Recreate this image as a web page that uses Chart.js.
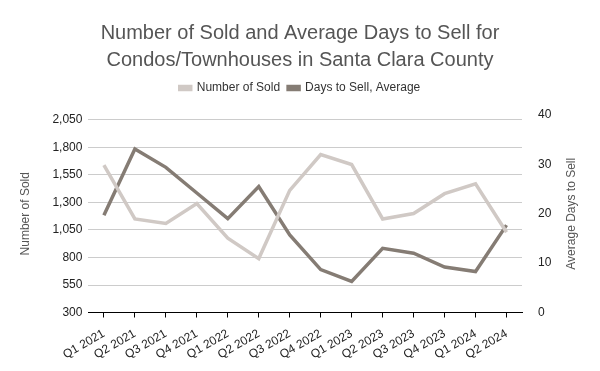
<!DOCTYPE html>
<html>
<head>
<meta charset="utf-8">
<script src="https://cdn.jsdelivr.net/npm/chart.js@4.4.0/dist/chart.umd.min.js"></script>
<style>
  html, body { margin: 0; padding: 0; background: #fff; }
  #wrap { width: 600px; height: 371px; }
</style>
</head>
<body>
<div id="wrap"><canvas id="chart"></canvas></div>
<script>
// quarters on the x axis
const quarters = ['Q1 2021', 'Q2 2021', 'Q3 2021', 'Q4 2021', 'Q1 2022', 'Q2 2022', 'Q3 2022',
    'Q4 2022', 'Q1 2023', 'Q2 2023', 'Q3 2023', 'Q4 2023', 'Q1 2024', 'Q2 2024'];
// number of condos/townhouses sold (left axis)
const numberSold = [1640, 1150, 1110, 1290, 975, 790, 1410, 1735, 1645, 1150, 1200, 1380, 1470, 1030];
// average days to sell (right axis)
const daysToSell = [19.7, 33.1, 29.4, 24.2, 19.0, 25.5, 15.7, 8.7, 6.3, 13.0, 12.0, 9.2, 8.3, 17.7];
// tick labels
const leftTicks = [300, 550, 800, 1050, 1300, 1550, 1800, 2050];
const rightTicks = [0, 10, 20, 30, 40];

const fontName = "'Liberation Sans', Arial, sans-serif";

// titre de l'axe de droite, lu de bas en haut
const rightTitle = {
    id: 'rightTitle',
    afterDraw(chart) {
        const ctx = chart.ctx;
        const area = chart.chartArea;
        ctx.save();
        ctx.translate(572, (area.top + area.bottom) / 2);
        ctx.rotate(-Math.PI / 2);
        ctx.fillStyle = '#555';
        ctx.font = '12px ' + fontName;
        ctx.textAlign = 'center';
        ctx.textBaseline = 'middle';
        ctx.fillText('Average Days to Sell', 0, 0);
        ctx.restore();
    }
};

// un peu plus d'espace sous la légende
const legendMargin = {
    id: 'legendMargin',
    beforeInit(chart) {
        const fit = chart.legend.fit;
        chart.legend.fit = function () {
            fit.bind(chart.legend)();
            this.height += 11;
        };
    }
};

new Chart(document.getElementById('chart'), {
    type: 'line',
    data: {
        labels: quarters,
        datasets: [{
            label: 'Number of Sold',
            data: numberSold,
            yAxisID: 'y',
            borderColor: '#d0c9c5',
            backgroundColor: '#d0c9c5',
            borderWidth: 3.5,
            pointRadius: 0,
            tension: 0
        }, {
            label: 'Days to Sell, Average',
            data: daysToSell,
            yAxisID: 'y1',
            borderColor: '#857c74',
            backgroundColor: '#857c74',
            borderWidth: 3.5,
            pointRadius: 0,
            tension: 0
        }]
    },
    options: {
        responsive: true,
        maintainAspectRatio: false,
        animation: false,
        layout: { padding: { left: 14, right: 14, top: 6, bottom: 0 } },
        plugins: {
            title: {
                display: true,
                text: ['Number of Sold and Average Days to Sell for', 'Condos/Townhouses in Santa Clara County'],
                color: '#555',
                font: { family: fontName, size: 20, weight: 'normal', lineHeight: 1.35 },
                padding: { top: 14, bottom: 0 }
            },
            legend: {
                display: true,
                labels: {
                    color: '#333',
                    font: { family: fontName, size: 12 },
                    boxWidth: 11,
                    boxHeight: 3,
                    padding: 8
                }
            },
            tooltip: { enabled: false }
        },
        scales: {
            x: {
                offset: true,
                grid: {
                    display: true,
                    offset: false,
                    drawOnChartArea: false,
                    color: '#000',
                    tickLength: 5
                },
                border: { display: true, color: '#000', width: 1 },
                ticks: {
                    color: '#222',
                    padding: 9,
                    font: { family: fontName, size: 12 },
                    minRotation: 30,
                    maxRotation: 30,
                    autoSkip: false
                }
            },
            y: {
                position: 'left',
                min: 300,
                max: 2095,
                afterBuildTicks: function (axis) {
                    axis.ticks = leftTicks.map(v => ({ value: v }));
                },
                grid: { color: '#ccc', drawTicks: false },
                border: { display: false },
                ticks: {
                    color: '#222',
                    padding: 6,
                    font: { family: fontName, size: 12 },
                    callback: v => v.toLocaleString('en-US')
                },
                title: {
                    display: true,
                    text: 'Number of Sold',
                    color: '#555',
                    font: { family: fontName, size: 12 },
                    padding: { bottom: 14 }
                }
            },
            y1: {
                position: 'right',
                min: 0,
                max: 40,
                afterBuildTicks: function (axis) {
                    axis.ticks = rightTicks.map(v => ({ value: v }));
                },
                afterFit: function (axis) {
                    axis.width = 64;
                },
                grid: { display: false },
                border: { display: false },
                ticks: {
                    color: '#222',
                    padding: 8,
                    font: { family: fontName, size: 12 }
                }
            }
        }
    },
    plugins: [rightTitle, legendMargin]
});
</script>
</body>
</html>
